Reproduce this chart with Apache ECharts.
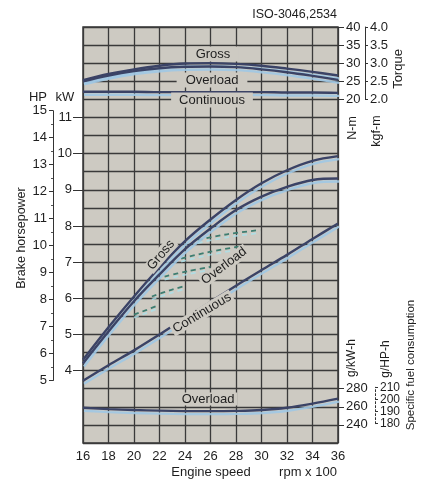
<!DOCTYPE html>
<html>
<head>
<meta charset="utf-8">
<script src="https://cdn.jsdelivr.net/npm/echarts@6/dist/echarts.min.js"></script>
<style>
html,body{margin:0;padding:0;background:#fff;}
#c{width:422px;height:480px;}
</style>
</head>
<body>
<div id="c"></div>
<script>
// ---------- data ----------
const rpm = [16, 18, 20, 22, 24, 26, 28, 30, 32, 34, 36];          // x 100 rpm
const torqueGross      = [25.3, 27.0, 28.3, 29.3, 29.9, 30.0, 29.8, 29.3, 28.5, 27.6, 26.6]; // N-m
const torqueOverload   = [25.0, 26.6, 27.8, 28.6, 29.0, 29.1, 28.9, 28.3, 27.5, 26.5, 25.4];
const torqueContinuous = [22.1, 22.1, 22.1, 22.0, 22.0, 22.0, 22.0, 22.0, 21.9, 21.9, 21.8];
const powerGross       = [4.3, 5.2, 6.05, 6.85, 7.58, 8.18, 8.72, 9.18, 9.54, 9.8, 9.93];  // kW
const powerOverload    = [4.2, 5.08, 5.92, 6.66, 7.36, 7.93, 8.44, 8.81, 9.08, 9.27, 9.31];
const powerContinuous  = [3.72, 4.15, 4.56, 5.0, 5.45, 5.9, 6.35, 6.78, 7.2, 7.64, 8.07];
const fuelOverload     = [259, 257.5, 256.5, 255.8, 255.3, 255.2, 255.5, 256.5, 259, 263.5, 269]; // g/kW-h
// partial-load (dashed) lines: [rpm, kW]
const dashA = [[25.0, 7.61], [27.3, 7.77], [29.9, 7.89]];
const dashB = [[23.7, 7.10], [26.0, 7.29], [28.2, 7.43]];
const dashC = [[22.4, 6.60], [24.2, 6.75], [26.0, 6.87]];
const dashD = [[21.4, 6.05], [22.8, 6.22], [24.0, 6.34]];
const dashE = [[20.0, 5.55], [21.0, 5.68], [21.8, 5.79]];
// tick labels [min, max, step]
const hpTicks = [5, 15, 1];
const kwTicks = [4, 11, 1];
const nmTicks = [20, 40, 5];
const kgfTicks = [2.0, 4.0, 0.5];
const gkwhTicks = [240, 280, 20];
const ghphTicks = [180, 210, 10];
const HP_KW = 0.7457;

// ---------- layout ----------
const PL = 83, PR = 338, PT = 27, PB = 443;
const KW_MIN = 2, KW_MAX = 13.5;
const T_MAX = 40, T_MIN = T_MAX - (KW_MAX - KW_MIN) * 10;
const F_AT_35 = 280; // g/kW-h aligned with kW 3.5, 40 g per kW
const F_MIN = F_AT_35 - (3.5 - KW_MIN) * 40, F_MAX = F_AT_35 + (KW_MAX - 3.5) * 40;
const kwPx = v => PT + (KW_MAX - v) / (KW_MAX - KW_MIN) * (PB - PT);
const fuelPx = f => kwPx(3.5 + (f - F_AT_35) / 40);
const torquePx = t => kwPx(KW_MIN + (t - T_MIN) / 10);

const FONT = '"Liberation Sans", Arial, Helvetica, sans-serif';
const TXT = '#1e1e1e';
const PLOT_BG = '#cdcac2';
const GRID_C = '#3a3a3a';
const CURVE = '#3b4366';
const HALO = 'rgba(160,200,228,0.9)';
const DASH_C = '#3e7d70';

const pairs = arr => rpm.map((r, i) => [r, arr[i]]);

const chart = echarts.init(document.getElementById('c'), null, {renderer: 'canvas'});

const gridBase = {outerBoundsMode: 'none', containLabel: false};
const band = (top, bottom, left, width) => Object.assign({left, width, top, height: bottom - top}, gridBase);
const grids = [
  Object.assign({left: PL, top: PT, width: PR - PL, height: PB - PT, show: true,
    backgroundColor: PLOT_BG, borderColor: GRID_C, borderWidth: 1.5}, gridBase),
  band(kwPx(hpTicks[1] * HP_KW), kwPx(hpTicks[0] * HP_KW), 53, 20),
  band(kwPx(kwTicks[1]), kwPx(kwTicks[0]), PL, PR - PL),
  band(torquePx(nmTicks[1]), torquePx(nmTicks[0]), PL, PR - PL),
  band(fuelPx(gkwhTicks[1]), fuelPx(gkwhTicks[0]), PL, PR - PL),
  band(fuelPx(ghphTicks[1] / HP_KW), fuelPx(ghphTicks[0] / HP_KW), PL, PR - PL)
];

const hiddenX = i => ({type: 'value', gridIndex: i, min: 1, max: 2, show: false});
const lab = (extra) => Object.assign({color: TXT, fontSize: 13, fontFamily: FONT, showMinLabel: true, showMaxLabel: true, hideOverlap: false}, extra);
const noSplit = {show: false};
const line = (show, extra) => ({show, onZero: false, lineStyle: Object.assign({color: '#333', width: 1}, extra || {})});

const yAxes = [
  {type: 'value', gridIndex: 0, min: KW_MIN, max: KW_MAX, interval: 0.5,
    axisLabel: {show: false}, axisTick: {show: false}, axisLine: line(false),
    splitLine: {show: true, lineStyle: {color: GRID_C, width: 1.3}}},
  {type: 'value', gridIndex: 0, min: T_MIN, max: T_MAX, show: false, splitLine: noSplit},
  {type: 'value', gridIndex: 0, min: F_MIN, max: F_MAX, show: false, splitLine: noSplit},
  // HP
  {type: 'value', gridIndex: 1, position: 'left', min: hpTicks[0], max: hpTicks[1], interval: hpTicks[2],
    axisLine: line(true),
    axisTick: {show: true, length: 4, lineStyle: {color: '#333'}},
    minorTick: {show: true, splitNumber: 2, length: 2, lineStyle: {color: '#555'}},
    axisLabel: lab({margin: 6}), splitLine: noSplit},
  // kW
  {type: 'value', gridIndex: 2, position: 'left', min: kwTicks[0], max: kwTicks[1], interval: kwTicks[2],
    axisLine: line(false), axisTick: {show: true, length: 10, lineStyle: {color: '#333', width: 1}},
    axisLabel: lab({margin: 11}), splitLine: noSplit},
  // N-m
  {type: 'value', gridIndex: 3, position: 'right', min: nmTicks[0], max: nmTicks[1], interval: nmTicks[2],
    axisLine: line(false), axisTick: {show: true, length: 6, lineStyle: {color: '#333', width: 1}},
    axisLabel: lab({margin: 8}), splitLine: noSplit},
  // kgf-m
  {type: 'value', gridIndex: 3, position: 'right', offset: 27, min: kgfTicks[0], max: kgfTicks[1], interval: kgfTicks[2],
    axisLine: line(true),
    axisTick: {show: true, length: 3, lineStyle: {color: '#333'}},
    axisLabel: lab({margin: 5, formatter: v => v.toFixed(1)}), splitLine: noSplit},
  // g/kW-h
  {type: 'value', gridIndex: 4, position: 'right', min: gkwhTicks[0], max: gkwhTicks[1], interval: gkwhTicks[2],
    axisLine: line(false), axisTick: {show: true, length: 6, lineStyle: {color: '#333', width: 1}},
    axisLabel: lab({margin: 8}), splitLine: noSplit},
  // g/HP-h
  {type: 'value', gridIndex: 5, position: 'right', offset: 37, min: ghphTicks[0], max: ghphTicks[1], interval: ghphTicks[2],
    axisLine: line(true, {type: [2, 2]}),
    axisTick: {show: true, length: 3, lineStyle: {color: '#333'}},
    axisLabel: lab({margin: 5, fontSize: 12, lineHeight: 10, padding: 0}), splitLine: noSplit}
];

const xAxes = [
  {type: 'value', gridIndex: 0, min: 16, max: 36, interval: 2,
    axisLine: {show: false}, axisTick: {show: false},
    axisLabel: lab({margin: 7}),
    splitLine: {show: true, lineStyle: {color: GRID_C, width: 1.3}}},
  hiddenX(1), hiddenX(2), hiddenX(3), hiddenX(4), hiddenX(5)
];

const curve = (name, data, yIdx) => ({
  name, type: 'line', xAxisIndex: 0, yAxisIndex: yIdx, data, smooth: 0.35, symbol: 'none', z: 5,
  lineStyle: {color: CURVE, width: 2.4, shadowColor: HALO, shadowBlur: 0, shadowOffsetX: 1, shadowOffsetY: 3},
  silent: true
});
const dashed = (name, data) => ({
  name, type: 'line', xAxisIndex: 0, yAxisIndex: 0, data, smooth: 0.3, symbol: 'none', z: 4,
  lineStyle: {color: DASH_C, width: 1.8, type: [5, 4], shadowColor: 'rgba(170,225,235,0.8)', shadowBlur: 0, shadowOffsetY: 3},
  silent: true
});

const series = [
  curve('Torque gross', pairs(torqueGross), 1),
  curve('Torque overload', pairs(torqueOverload), 1),
  curve('Torque continuous', pairs(torqueContinuous), 1),
  dashed('Part A', dashA), dashed('Part B', dashB), dashed('Part C', dashC), dashed('Part D', dashD), dashed('Part E', dashE),
  curve('Power gross', pairs(powerGross), 0),
  curve('Power overload', pairs(powerOverload), 0),
  curve('Power continuous', pairs(powerContinuous), 0),
  curve('Fuel overload', pairs(fuelOverload), 2)
];

const T = (text, x, y, opts) => {
  const o = opts || {};
  return {
    type: 'text', x, y, rotation: (o.rot || 0) * Math.PI / 180, z: 100, silent: true,
    style: Object.assign({
      text, font: (o.size || 13) + 'px ' + FONT, fill: TXT,
      align: o.align || 'center', verticalAlign: 'middle',
      textAlign: o.align || 'center', textVerticalAlign: 'middle'
    }, o.bg ? {backgroundColor: PLOT_BG, padding: o.pad || [1, 6]} : {})
  };
};

const graphics = [
  T('ISO-3046,2534', 337, 15, {align: 'right', size: 12.5}),
  T('HP', 38, 97), T('kW', 65, 97),
  T('Brake horsepower', 22, 238, {rot: 90, size: 12.5}),
  T('Torque', 398, 69, {rot: 90}),
  T('N-m', 353, 128, {rot: 90, size: 12.5}),
  T('kgf-m', 377, 131, {rot: 90, size: 12.5}),
  T('g/kW-h', 352, 358, {rot: 90, size: 12}),
  T('g/HP-h', 386, 359, {rot: 90, size: 12}),
  T('Specific fuel consumption', 411, 365, {rot: 90, size: 11.5}),
  T('Engine speed', 211, 472),
  T('rpm x 100', 308, 472),
  T('Gross', 213, 54, {bg: true, pad: [1, 8]}),
  T('Overload', 212, 80, {bg: true, pad: [1, 9]}),
  T('Continuous', 212, 100, {bg: true, pad: [1, 8]}),
  T('Gross', 161, 255, {rot: 50, bg: true, pad: [0, 2]}),
  T('Overload', 224, 266, {rot: 37, bg: true, pad: [0, 2]}),
  T('Continuous', 202, 313, {rot: 31, bg: true, pad: [0, 2]}),
  T('Overload', 208, 399, {bg: true, pad: [0, 3]})
];

chart.setOption({
  animation: false,
  backgroundColor: '#fff',
  textStyle: {fontFamily: FONT},
  grid: grids,
  xAxis: xAxes,
  yAxis: yAxes,
  series,
  graphic: graphics
});
</script>
</body>
</html>
